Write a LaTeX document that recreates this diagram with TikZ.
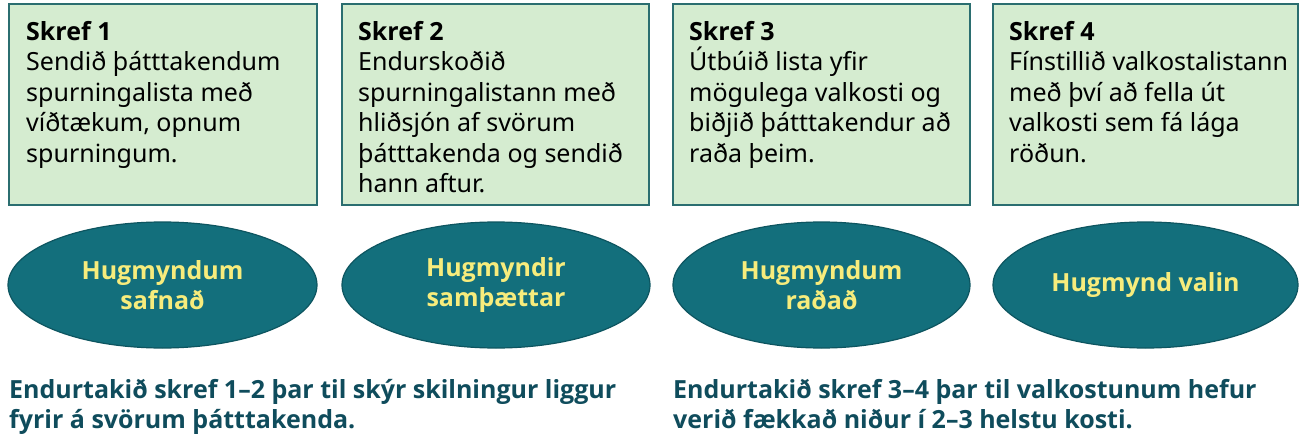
\documentclass[tikz,border=0pt]{standalone}
\usepackage{fontspec}
\setmainfont{Noto Sans}
\newfontfamily\boldsans{Open Sans}
\usetikzlibrary{shapes.geometric,calc}
\definecolor{boxfill}{HTML}{D5ECD0}
\definecolor{boxline}{HTML}{2B6E70}
\definecolor{ellfill}{HTML}{136F7C}
\definecolor{ellline}{HTML}{0D5560}
\definecolor{elltext}{HTML}{F7EC7C}
\definecolor{noteblue}{HTML}{0F4C5C}
\tikzset{
  stepbox/.style={draw=boxline, line width=2pt, fill=boxfill, minimum height=201pt, inner sep=0pt},
  boxtext/.style={anchor=north west, align=left, inner sep=0pt, font=\fontsize{25}{30.5}\selectfont, text=black},
  idea/.style={ellipse, draw=ellline, line width=1.2pt, fill=ellfill, minimum height=126pt, inner sep=0pt, align=center, text=elltext, font=\boldsans\fontsize{25}{30.5}\selectfont\bfseries},
  note/.style={anchor=north west, align=left, inner sep=0pt, text=noteblue, font=\boldsans\fontsize{25}{30}\selectfont\bfseries}
}
\newcommand{\stephead}[1]{{\boldsans\fontsize{25}{26}\selectfont\bfseries #1}}
\begin{document}
\begin{tikzpicture}[x=1pt,y=-1pt]
\useasboundingbox[fill=white] (0,0) rectangle (1300,441);
% boxes
\node[stepbox, minimum width=308pt] (b1) at (163,104.5) {};
\node[stepbox, minimum width=307pt] (b2) at (495.5,104.5) {};
\node[stepbox, minimum width=297pt] (b3) at (821.5,104.5) {};
\node[stepbox, minimum width=305pt] (b4) at (1145.5,104.5) {};
% box texts
\node[boxtext] (t1) at ($(b1.north west)+(18,18)$) {\stephead{Skref 1}\\Sendið þátttakendum\\spurningalista með\\víðtækum, opnum\\spurningum.};
\node[boxtext] (t2) at ($(b2.north west)+(17,18)$) {\stephead{Skref 2}\\Endurskoðið\\spurningalistann með\\hliðsjón af svörum\\þátttakenda og sendið\\hann aftur.};
\node[boxtext] (t3) at ($(b3.north west)+(17,18)$) {\stephead{Skref 3}\\Útbúið lista yfir\\mögulega valkosti og\\biðjið þátttakendur að\\raða þeim.};
\node[boxtext] (t4) at ($(b4.north west)+(17,18)$) {\stephead{Skref 4}\\Fínstillið valkostalistann\\með því að fella út\\valkosti sem fá lága\\röðun.};
% ellipses
\node[idea, minimum width=309pt] (e1) at (162.5,285) {Hugmyndum\\safnað};
\node[idea, minimum width=308pt] (e2) at (496,285) {Hugmyndir\\samþættar};
\node[idea, minimum width=297pt] (e3) at (821.5,285) {Hugmyndum\\raðað};
\node[idea, minimum width=305pt] (e4) at (1145.5,285) {Hugmynd valin};
% notes
\node[note] (n1) at (9,379) {Endurtakið skref 1–2 þar til skýr skilningur liggur\\fyrir á svörum þátttakenda.};
\node[note] (n2) at (673,379) {Endurtakið skref 3–4 þar til valkostunum hefur\\verið fækkað niður í 2–3 helstu kosti.};
\end{tikzpicture}
\end{document}
